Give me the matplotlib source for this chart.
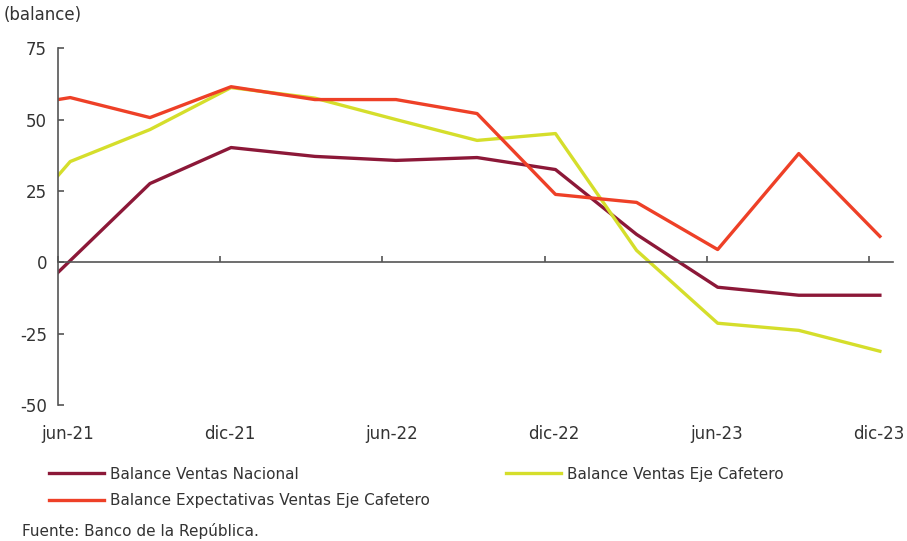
import matplotlib.pyplot as plt
import numpy as np

# meses desde jun-21
meses = [0, 0.45, 3.4, 6.4, 9.5, 12.5, 15.5, 18.4, 21.4, 24.4, 27.4, 30.4]
meses_nacional = [0, 3.4, 6.4, 9.5, 12.5, 15.5, 18.4, 21.4, 24.4, 27.4, 30.4]

ventas_nacional = [-3.5, 27.6, 40.2, 37.1, 35.7, 36.7, 32.5, 9.8, -8.7, -11.5, -11.5]
ventas_eje = [30.4, 35.3, 46.5, 61.2, 57.5, 50.0, 42.7, 45.1, 4.2, -21.3, -23.8, -31.1]
expectativas_eje = [57.0, 57.7, 50.7, 61.5, 57.0, 57.0, 52.1, 23.8, 21.0, 4.5, 38.1, 9.1]

tick_meses = [0, 6, 12, 18, 24, 30]
tick_labels = ['jun-21', 'dic-21', 'jun-22', 'dic-22', 'jun-23', 'dic-23']

plt.rcParams['font.family'] = ['DejaVu Sans']
plt.rcParams['axes.unicode_minus'] = False
texto = '#333333'

fig = plt.figure(figsize=(9.07, 5.41), dpi=100)
ax = fig.add_axes([0.064, 0.251, 0.921, 0.660])

l1, = ax.plot(meses_nacional, ventas_nacional, color='#8C1838', lw=2.4,
              label='Balance Ventas Nacional')
l2, = ax.plot(meses, ventas_eje, color='#D5DE2B', lw=2.4,
              label='Balance Ventas Eje Cafetero')
l3, = ax.plot(meses, expectativas_eje, color='#EE4027', lw=2.4,
              label='Balance Expectativas Ventas Eje Cafetero')

ax.set_xlim(0, 30.9)
ax.set_ylim(-50, 75)
ax.set_yticks([-50, -25, 0, 25, 50, 75])
ax.set_xticks(tick_meses)
ax.set_xticklabels([])
ax.set_xticks([m + 0.35 for m in tick_meses], minor=True)
ax.set_xticklabels(tick_labels, minor=True)

for s in ['top', 'right']:
    ax.spines[s].set_visible(False)
ax.spines['bottom'].set_position(('data', 0))
for s in ['left', 'bottom']:
    ax.spines[s].set_color('#555555')
    ax.spines[s].set_linewidth(1.2)

ax.tick_params(axis='y', direction='in', length=4, width=1.2, color='#555555',
               labelsize=12, labelcolor=texto, pad=8)
ax.tick_params(axis='x', which='major', direction='in', length=4, width=1.2,
               color='#555555')
ax.tick_params(axis='x', which='minor', length=0, labelsize=12,
               labelcolor=texto, pad=117)

fig.text(0.004, 0.972, '(balance)', fontsize=12, color=texto, va='center')

ley = fig.legend(handles=[l1, l3, l2], loc='upper left', bbox_to_anchor=(0.047, 0.149),
                 ncol=2, frameon=False, fontsize=11,
                 handlelength=3.6, handletextpad=0.4,
                 columnspacing=5.0, labelspacing=0.75, borderaxespad=0)
for t in ley.get_texts():
    t.set_color(texto)
fig.text(0.024, 0.01, 'Fuente: Banco de la República.', fontsize=11, color=texto)

fig.savefig('out.png', dpi=100)
